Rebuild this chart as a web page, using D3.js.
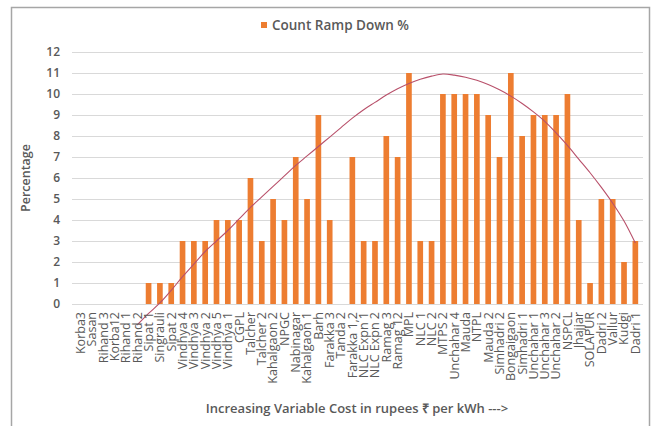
<!DOCTYPE html>
<html><head><meta charset="utf-8">
<script src="https://cdn.jsdelivr.net/npm/d3@7"></script>
<style>body{margin:0;background:#fff}svg{display:block}</style>
</head><body>
<svg id="c" width="654" height="426"></svg>
<script>
const categories = ["Korba3","Sasan","Rihand 3","Korba12","Rihand 1","Rihand 2","Sipat 1","Singrauli","Sipat 2","Vindhya 4","Vindhya 3","Vindhya 2","Vindhya 5","Vindhya 1","CGPL","Talcher","Talcher 2","Kahalgaon 2","NPGC","Nabinagar","Kahalgaon 1","Barh","Farakka 3","Tanda 2","Farakka 1,2","NLC Expn 1","NLC Expn 2","Ramag 3","Ramag 12","MPL","NLC 1","NLC 2","MTPS 2","Unchahar 4","Mauda","NTPL","Mauda 2","Simhadri 2","Bongaigaon","Simhadri 1","Unchahar 1","Unchahar 3","Unchahar 2","NSPCL","Jhajjar","SOLAPUR","Dadri 2","Vallur","Kudgi","Dadri 1"];
const rampDown = [0,0,0,0,0,0,1,1,1,3,3,3,4,4,4,6,3,5,4,7,5,9,4,0,7,3,3,8,7,11,3,3,10,10,10,10,9,7,11,8,9,9,9,10,4,1,5,5,2,3];
// trendline values (null where not drawn)
const trend = [null,null,null,null,null,-1.0,-0.45,0.05,0.65,1.3,1.9,2.5,3.0,3.5,4.05,4.6,5.1,5.6,6.1,6.6,7.05,7.5,7.95,8.4,8.85,9.25,9.6,9.95,10.25,10.5,10.7,10.85,10.95,10.9,10.8,10.65,10.45,10.2,9.9,9.55,9.15,8.7,8.15,7.55,6.9,6.25,5.55,4.8,3.95,2.9];
const yTicks = [0,1,2,3,4,5,6,7,8,9,10,11,12];
const legendLabel = "Count Ramp Down %";
const yTitle = "Percentage";
const xTitle = "Increasing Variable Cost in rupees \u20B9 per kWh --->";

const svg = d3.select("#c");
const txt = "#595959";
const font = "'Open Sans', 'Liberation Sans', sans-serif";

svg.append("rect").attr("x",11.5).attr("y",7.5).attr("width",638).attr("height",440)
  .attr("fill","none").attr("stroke","#a6a6a6").attr("stroke-width",1.5);

const x = d3.scaleBand().domain(categories).range([75,641]).paddingInner(0.5).paddingOuter(0.25);
const y = d3.scaleLinear().domain([0,12]).range([304,52]);

// gridlines
svg.append("g").selectAll("line").data(yTicks).join("line")
  .attr("x1",72).attr("x2",643).attr("y1",d=>y(d)+0.5).attr("y2",d=>y(d)+0.5)
  .attr("stroke","#d9d9d9").attr("stroke-width",1);

// y axis labels
const yAxis = d3.axisLeft(y).tickValues(yTicks).tickSize(0).tickPadding(0);
const gy = svg.append("g").attr("transform","translate(60,0)").call(yAxis);
gy.select(".domain").remove();
gy.selectAll("text").attr("fill",txt).style("font-family",font).style("font-size","12px").style("font-weight","600");

// bars
svg.append("g").selectAll("rect").data(rampDown).join("rect")
  .attr("x",(d,i)=>x(categories[i])).attr("width",x.bandwidth())
  .attr("y",d=>y(d)).attr("height",d=>y(0)-y(d)).attr("fill","#ED7D31");

// trendline
const line = d3.line().defined(d=>d[1]!==null)
  .x(d=>x(d[0])+x.bandwidth()/2).y(d=>y(d[1])).curve(d3.curveCatmullRom);
svg.append("path").datum(categories.map((c,i)=>[c,trend[i]]))
  .attr("d",line).attr("fill","none").attr("stroke","#b8506a").attr("stroke-width",1.1);

// x axis labels
const xAxis = d3.axisBottom(x).tickSize(0).tickPadding(0);
const gx = svg.append("g").attr("transform","translate(0,310)").call(xAxis);
gx.select(".domain").remove();
gx.selectAll("text").attr("fill",txt).style("font-family",font).style("font-size","12.5px")
  .attr("transform","rotate(-90)").attr("text-anchor","end").attr("dy","0.35em").attr("x",-2).attr("y",0);

// legend
svg.append("rect").attr("x",261).attr("y",22).attr("width",6).attr("height",6).attr("fill","#ED7D31");
svg.append("text").attr("x",272).attr("y",29.5).text(legendLabel).attr("fill",txt)
  .style("font-family",font).style("font-size","13.5px").style("font-weight","600");

// axis titles
svg.append("text").attr("transform","translate(30,178) rotate(-90)").attr("text-anchor","middle")
  .text(yTitle).attr("fill",txt).style("font-family",font).style("font-size","12.5px").style("font-weight","600");
svg.append("text").attr("x",357).attr("y",413).attr("text-anchor","middle")
  .text(xTitle).attr("fill",txt).style("font-family",font).style("font-size","13px").style("font-weight","600");
</script>
</body></html>
